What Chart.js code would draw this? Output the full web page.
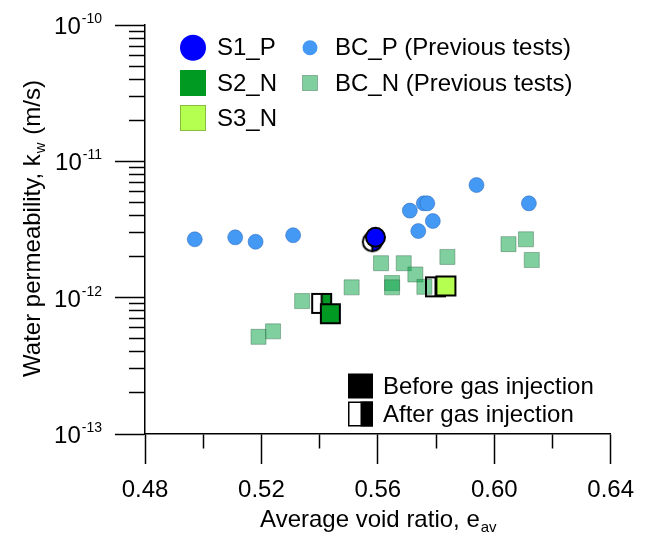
<!DOCTYPE html>
<html><head><meta charset="utf-8">
<script src="https://cdn.jsdelivr.net/npm/chart.js@4.4.0/dist/chart.umd.min.js"></script>
<style>html,body{margin:0;padding:0;background:#fff;}#wrap{width:646px;height:535px;position:relative;}</style>
</head><body><div id="wrap"><canvas id="c" width="646" height="535"></canvas></div>
<script>
const FONT = "'Liberation Sans', Arial, Helvetica, sans-serif";

// ---- data ----
const s1Stage = ['after', 'before'];
const s1Void  = [0.5581, 0.5592];
const s1Perm  = [2.57e-12, 2.77e-12];

const s2Stage = ['after', 'before'];
const s2Void  = [0.5407, 0.5437];
const s2Perm  = [9.08e-13, 7.62e-13];

const s3Stage = ['after', 'before'];
const s3Void  = [0.5798, 0.5834];
const s3Perm  = [1.20e-12, 1.22e-12];

const bcpVoid = [0.4971, 0.5110, 0.5180, 0.5309, 0.5710, 0.5758, 0.5770, 0.5789, 0.5739, 0.5939, 0.6119];
const bcpPerm = [2.68e-12, 2.77e-12, 2.57e-12, 2.87e-12, 4.35e-12, 4.92e-12, 4.92e-12, 3.65e-12, 3.08e-12, 6.70e-12, 4.92e-12];

const bcnVoid = [0.5190, 0.5240, 0.5340, 0.5510, 0.5611, 0.5649, 0.5649, 0.5689, 0.5729, 0.5760, 0.5839, 0.6049, 0.6109, 0.6129];
const bcnPerm = [5.16e-13, 5.66e-13, 9.44e-13, 1.19e-12, 1.79e-12, 1.28e-12, 1.19e-12, 1.79e-12, 1.48e-12, 1.20e-12, 1.99e-12, 2.47e-12, 2.68e-12, 1.89e-12];

const xTickValues = [0.48, 0.50, 0.52, 0.54, 0.56, 0.58, 0.60, 0.62, 0.64];
const xTickLabels = ['0.48', '', '0.52', '', '0.56', '', '0.60', '', '0.64'];
const yDecadeExp  = [-13, -12, -11, -10];
const yTickLabelExp = ['-13', '-12', '-11', '-10'];
const yMultipliers = [1, 2, 3, 4, 5, 6, 7, 8, 9];

const legendNames = ['S1_P', 'S2_N', 'S3_N', 'BC_P (Previous tests)', 'BC_N (Previous tests)'];
const stageNames = ['Before gas injection', 'After gas injection'];
const xTitle = ['Average void ratio, e', 'av'];
const yTitle = ['Water permeability, k', 'w', ' (m/s)'];

// ---- styles ----
const C_S1 = '#0000ff', C_S2 = '#009922', C_S3 = '#b4ff50';
const C_BCP = '#4499f5', C_BCN = 'rgba(0,160,64,0.5)', C_BCN_B = 'rgba(60,110,80,0.45)';

// build y tick list from decades & multipliers
const yTickValues = [];
yDecadeExp.forEach((e, i) => {
  yMultipliers.forEach(m => { if (i < yDecadeExp.length - 1 || m === 1) yTickValues.push(m * Math.pow(10, e)); });
});
const yMajorValues = yDecadeExp.map(e => Math.pow(10, e));

function halfMarker(shape, size, color, lw) {
  const pad = 3;
  const n = Math.ceil(size + pad * 2);
  const cv = document.createElement('canvas');
  cv.width = n; cv.height = n;
  const g = cv.getContext('2d');
  const c = n / 2, h = size / 2;
  const path = () => {
    g.beginPath();
    if (shape === 'circle') g.arc(c, c, h, 0, Math.PI * 2);
    else g.rect(c - h, c - h, size, size);
  };
  g.save(); g.beginPath(); g.rect(c, 0, c, n); g.clip();
  path(); g.fillStyle = color; g.fill(); g.restore();
  g.lineWidth = lw; g.strokeStyle = '#000';
  g.beginPath(); g.moveTo(c, c - h); g.lineTo(c, c + h); g.stroke();
  path(); g.stroke();
  return cv;
}

const S1_SIZE = 19, SQ_SIZE = 19;
const s1After = halfMarker('circle', S1_SIZE, C_S1, 2);
const s2After = halfMarker('rect', SQ_SIZE, C_S2, 2);
const s3After = halfMarker('rect', SQ_SIZE, C_S3, 2);

function pts(xs, ys) { return xs.map((x, i) => ({ x: x, y: ys[i] })); }

const datasets = [
  { label: legendNames[0], data: pts(s1Void, s1Perm), order: 1,
    pointStyle: s1Stage.map(s => s === 'after' ? s1After : 'circle'),
    pointRadius: S1_SIZE / 2, backgroundColor: C_S1, borderColor: '#000', borderWidth: 2 },
  { label: legendNames[1], data: pts(s2Void, s2Perm), order: 2,
    pointStyle: s2Stage.map(s => s === 'after' ? s2After : 'rect'),
    pointRadius: SQ_SIZE / 2 / Math.SQRT1_2, backgroundColor: C_S2, borderColor: '#000', borderWidth: 2 },
  { label: legendNames[2], data: pts(s3Void, s3Perm), order: 3,
    pointStyle: s3Stage.map(s => s === 'after' ? s3After : 'rect'),
    pointRadius: SQ_SIZE / 2 / Math.SQRT1_2, backgroundColor: C_S3, borderColor: '#000', borderWidth: 2 },
  { label: legendNames[3], data: pts(bcpVoid, bcpPerm), order: 5,
    pointStyle: 'circle', pointRadius: 7.5, backgroundColor: C_BCP, borderColor: 'rgba(40,100,180,0.5)', borderWidth: 1 },
  { label: legendNames[4], data: pts(bcnVoid, bcnPerm), order: 4,
    pointStyle: 'rect', pointRadius: 7.5 / Math.SQRT1_2, backgroundColor: C_BCN, borderColor: C_BCN_B, borderWidth: 1 }
];

const isMajorY = v => yMajorValues.some(m => Math.abs(v / m - 1) < 1e-6);

const drawText = {
  id: 'drawText',
  afterDraw(chart) {
    const ctx = chart.ctx, ys = chart.scales.y, a = chart.chartArea;
    ctx.save();
    ctx.fillStyle = '#000';
    // y tick labels 10^n
    yMajorValues.forEach((v, i) => {
      const py = ys.getPixelForValue(v);
      ctx.font = '14px ' + FONT;
      const ew = ctx.measureText(yTickLabelExp[i]).width;
      const right = 102;
      ctx.textAlign = 'right'; ctx.textBaseline = 'alphabetic';
      ctx.fillText(yTickLabelExp[i], right, py - 2);
      ctx.font = '24px ' + FONT;
      ctx.fillText('10', right - ew - 1, py + 9);
    });
    // x title with subscript
    ctx.font = '24px ' + FONT;
    const w1 = ctx.measureText(xTitle[0]).width;
    ctx.font = '15px ' + FONT;
    const w2 = ctx.measureText(xTitle[1]).width;
    const cx = (a.left + a.right) / 2;
    let sx = cx - (w1 + w2) / 2;
    ctx.textAlign = 'left'; ctx.textBaseline = 'alphabetic';
    ctx.font = '24px ' + FONT; ctx.fillText(xTitle[0], sx, 527);
    ctx.font = '15px ' + FONT; ctx.fillText(xTitle[1], sx + w1 + 1, 532);
    // y title rotated
    ctx.save();
    ctx.translate(40, (a.top + a.bottom) / 2);
    ctx.rotate(-Math.PI / 2);
    ctx.font = '24px ' + FONT;
    const t1 = ctx.measureText(yTitle[0]).width, t3 = ctx.measureText(yTitle[2]).width;
    ctx.font = '15px ' + FONT;
    const t2 = ctx.measureText(yTitle[1]).width;
    let tx = -(t1 + t2 + t3) / 2;
    ctx.font = '24px ' + FONT; ctx.fillText(yTitle[0], tx, 0);
    ctx.font = '15px ' + FONT; ctx.fillText(yTitle[1], tx + t1 + 1, 5);
    ctx.font = '24px ' + FONT; ctx.fillText(yTitle[2], tx + t1 + t2 + 2, 0);
    ctx.restore();

    // legend (top-left)
    const rows = [47.7, 83, 118];
    ctx.font = '24px ' + FONT; ctx.textBaseline = 'middle'; ctx.textAlign = 'left';
    ctx.beginPath(); ctx.arc(193, rows[0], 13, 0, Math.PI * 2); ctx.fillStyle = C_S1; ctx.fill();
    ctx.fillStyle = C_S2; ctx.fillRect(180, rows[1] - 13, 26, 26);
    ctx.fillStyle = C_S3; ctx.fillRect(180, rows[2] - 13, 26, 26);
    ctx.strokeStyle = 'rgba(0,0,0,0.25)'; ctx.lineWidth = 1; ctx.strokeRect(180.5, rows[2] - 12.5, 25, 25);
    ctx.beginPath(); ctx.arc(310, rows[0], 7.5, 0, Math.PI * 2); ctx.fillStyle = C_BCP; ctx.fill();
    ctx.fillStyle = C_BCN; ctx.fillRect(302.5, rows[1] - 7.5, 15, 15);
    ctx.strokeStyle = C_BCN_B; ctx.strokeRect(302.5, rows[1] - 7.5, 15, 15);
    ctx.fillStyle = '#000';
    ctx.fillText(legendNames[0], 217, rows[0] + 1);
    ctx.fillText(legendNames[1], 217, rows[1] + 1);
    ctx.fillText(legendNames[2], 217, rows[2] + 1);
    ctx.fillText(legendNames[3], 335, rows[0] + 1);
    ctx.fillText(legendNames[4], 335, rows[1] + 1);

    // stage legend (bottom right)
    const r2 = [386, 414];
    ctx.fillStyle = '#000';
    ctx.fillRect(348, r2[0] - 12.5, 25, 25);
    ctx.fillRect(360.5, r2[1] - 12.5, 12.5, 25);
    ctx.strokeStyle = '#000'; ctx.lineWidth = 1.5;
    ctx.strokeRect(348.75, r2[1] - 11.75, 23.5, 23.5);
    ctx.fillText(stageNames[0], 383, r2[0] + 1);
    ctx.fillText(stageNames[1], 383, r2[1] + 1);
    ctx.restore();
  }
};

new Chart(document.getElementById('c'), {
  type: 'scatter',
  data: { datasets },
  options: {
    responsive: false, animation: false, devicePixelRatio: 1,
    layout: { padding: { left: 0, top: 25, right: 34, bottom: 0 } },
    plugins: { legend: { display: false }, tooltip: { enabled: false }, title: { display: false } },
    scales: {
      x: {
        type: 'linear', min: 0.48, max: 0.64,
        afterBuildTicks: s => { s.ticks = xTickValues.map(v => ({ value: v })); },
        afterFit: s => { s.height = 101; },
        border: { display: true, color: '#000', width: 1.5 },
        grid: {
          drawOnChartArea: false, drawTicks: true, tickLength: 30, tickColor: '#000', tickWidth: 1.5,
          tickBorderDash: c => (c.tick && xTickLabels[xTickValues.findIndex(v => Math.abs(v - c.tick.value) < 1e-9)] === '') ? [14, 100] : []
        },
        ticks: {
          autoSkip: false, maxRotation: 0, padding: 12, color: '#000',
          font: { family: FONT, size: 24 },
          callback: (v) => { const i = xTickValues.findIndex(t => Math.abs(t - v) < 1e-9); return i >= 0 ? xTickLabels[i] : ''; }
        }
      },
      y: {
        type: 'logarithmic', min: 1e-13, max: 1e-10,
        afterBuildTicks: s => { s.ticks = yTickValues.map(v => ({ value: v })); },
        afterFit: s => { s.width = 145; },
        border: { display: true, color: '#000', width: 1.5 },
        grid: {
          drawOnChartArea: false, drawTicks: true, tickLength: 30, tickColor: '#000', tickWidth: 1.5,
          tickBorderDash: c => (c.tick && !isMajorY(c.tick.value)) ? [16, 14] : [],
          tickBorderDashOffset: c => (c.tick && !isMajorY(c.tick.value)) ? 16 : 0
        },
        ticks: { autoSkip: false, callback: () => '', font: { family: FONT, size: 24 } }
      }
    }
  },
  plugins: [drawText]
});
</script></body></html>
